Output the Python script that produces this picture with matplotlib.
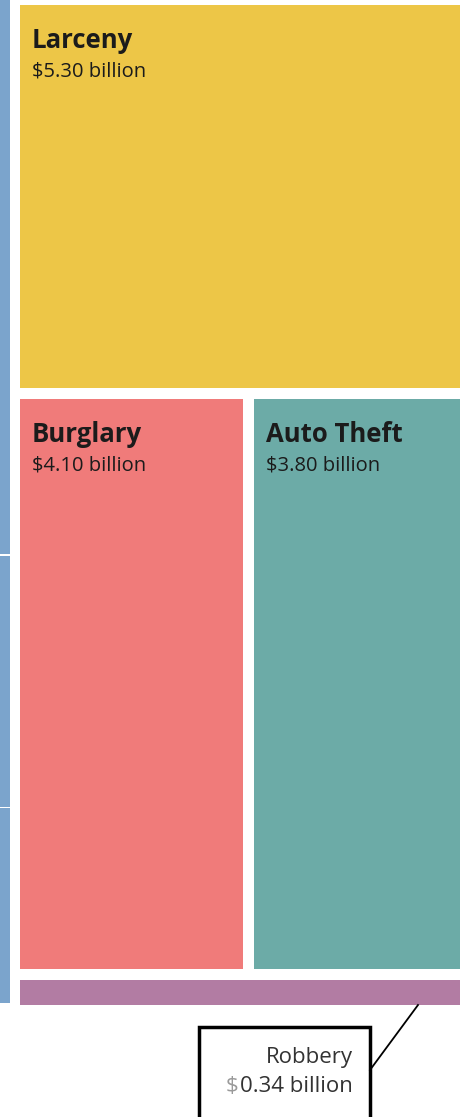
import matplotlib.pyplot as plt
from matplotlib.patches import Rectangle

# treemap data (billions of dollars)
rows = [["Larceny"], ["Burglary", "Auto Theft"], ["Robbery"]]
categories = ["Larceny", "Burglary", "Auto Theft", "Robbery"]
values = [5.30, 4.10, 3.80, 0.34]
colors = ["#EDC647", "#F07B7A", "#6CABA7", "#B27CA3"]
# cropped neighbouring treemap at the left edge (relative shares)
neighbour_shares = [2.2, 1.0, 0.78]
neighbour_color = "#7BA4CC"

val = dict(zip(categories, values))
col = dict(zip(categories, colors))

W, H = 466, 1117
fig = plt.figure(figsize=(W / 100, H / 100), dpi=100)
ax = fig.add_axes([0, 0, 1, 1])
ax.set_xlim(0, W)
ax.set_ylim(H, 0)
ax.axis("off")

x0, x1 = 20, 460
top, bottom = 5, 1005
gap = 11
avail = (bottom - top) - gap * (len(rows) - 1)
per_unit = avail / sum(values)

y = top
boxes = {}
for row in rows:
    tot = sum(val[c] for c in row)
    h = tot * per_unit
    xx = x0
    width = (x1 - x0) - gap * (len(row) - 1)
    for c in row:
        w = width * val[c] / tot
        ax.add_patch(Rectangle((xx, y), w, h, facecolor=col[c], edgecolor="none"))
        boxes[c] = (xx, y, w, h)
        xx += w + gap
    y += h + gap

# labels inside the big boxes
for c in ["Larceny", "Burglary", "Auto Theft"]:
    bx, by, bw, bh = boxes[c]
    ax.text(bx + 12, by + 22, c, fontsize=18.5, fontweight="bold", family="Open Sans",
            color="#1b1b1b", va="top", ha="left")
    ax.text(bx + 12, by + 57, f"${val[c]:.2f} billion", fontsize=14.5, family="Open Sans",
            color="#1b1b1b", va="top", ha="left")

# neighbour strip on the left
ny = 0
tot_n = sum(neighbour_shares)
for s in neighbour_shares:
    hh = s / tot_n * bottom
    ax.add_patch(Rectangle((0, ny), 10, hh - 1.5, facecolor=neighbour_color, edgecolor="none"))
    ny += hh

# callout for Robbery
bx, by, bw, bh = boxes["Robbery"]
ax.add_patch(Rectangle((199, 1027), 171, 100, facecolor="white", edgecolor="black",
                       linewidth=2.5, clip_on=True))
ax.plot([370, 418], [1070, by + bh], color="black", linewidth=1.3)
ax.text(353, 1057, "Robbery", fontsize=16, family="Open Sans", color="#333333",
        ha="right", va="center")
num = ax.text(353, 1086, f"{val['Robbery']:.2f} billion", fontsize=16, family="Open Sans",
              color="#333333", ha="right", va="center")
ax.annotate("$", xy=(0, 0.5), xycoords=num, xytext=(-1, 0), textcoords="offset points",
            fontsize=16, family="Open Sans", color="#9a9a9a", ha="right", va="center")

fig.savefig("out.png", dpi=100)
